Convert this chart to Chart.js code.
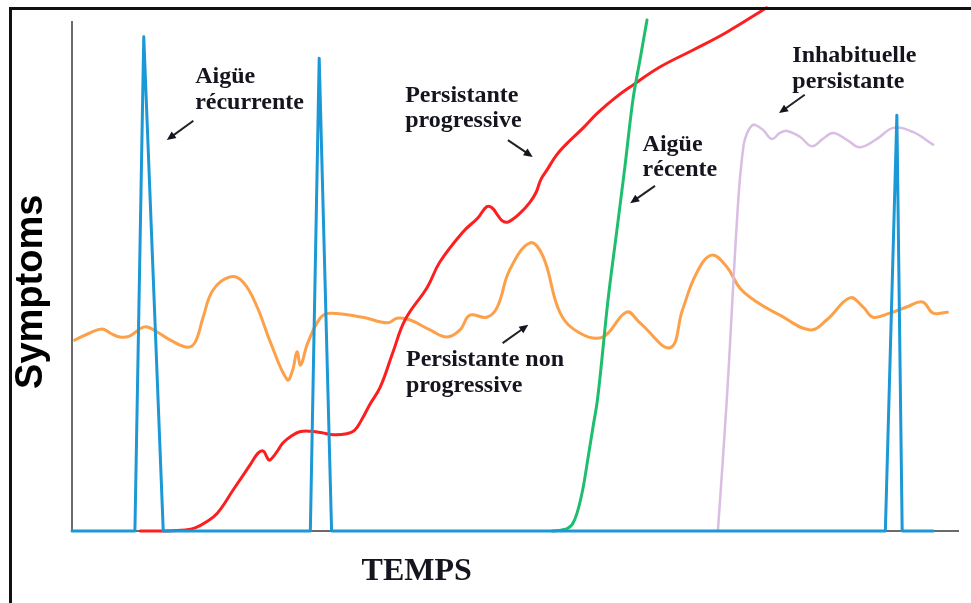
<!DOCTYPE html>
<html lang="fr">
<head>
<meta charset="utf-8">
<title>Symptoms / Temps</title>
<script src="https://cdn.jsdelivr.net/npm/chart.js@4.4.1/dist/chart.umd.min.js"></script>
<style>
    html, body { margin: 0; padding: 0; background: #fff; }
    #wrap { position: relative; width: 971px; height: 603px; }
    #frame {
        position: absolute; left: 9px; top: 7px; right: 0; bottom: 0;
        border-left: 3px solid #111; border-top: 3px solid #111;
        pointer-events: none;
    }
</style>
</head>
<body>
<div id="wrap">
    <canvas id="symptomChart"></canvas>
    <div id="frame"></div>
</div>
<script>
// Time axis runs 0..100, symptom level 0..100 (no units in the figure)

// Aigüe récurrente (blue spikes)
const recurrentTime  = [0, 7.1, 8.1, 10.3, 26.9, 27.9, 29.3, 91.8, 93.1, 93.7, 97.2];
const recurrentLevel = [0, 0, 97.1, 0, 0, 92.9, 0, 0, 81.7, 0, 0];

// Persistante progressive (red)
const progressiveTime  = [7.7, 10.5, 12.8, 13.9, 15.0, 16.4, 18.2, 20.1, 21.0, 21.6, 22.0, 22.3, 23.1, 23.8, 24.8, 25.7,
    26.9, 28.2, 29.5, 31.0, 31.9, 32.8, 33.6, 34.8, 36.2, 37.6, 40.1, 41.5, 44.1, 45.8, 46.8, 47.4, 48.1, 48.6, 49.2,
    50.6, 51.7, 52.4, 52.9, 53.6, 54.7, 55.9, 57.7, 59.3, 61.3, 63.3, 66.4, 70.1, 73.9, 78.4];
const progressiveLevel = [0, 0, 0.2, 0.6, 1.6, 3.5, 8.1, 13.0, 15.3, 15.7, 14.5, 13.9, 15.5, 17.3, 18.7, 19.5,
    19.6, 19.3, 18.9, 19.1, 19.8, 22.2, 24.8, 28.3, 35.0, 41.5, 47.9, 52.8, 58.7, 61.5, 63.7, 63.5, 61.9, 60.9, 60.7,
    62.5, 64.6, 66.6, 69.0, 70.9, 73.9, 76.2, 79.2, 82.1, 85.1, 87.6, 91.2, 94.5, 98.0, 102.8];

// Persistante non progressive (orange)
const stableTime  = [0.3, 2.0, 3.4, 4.3, 5.4, 6.5, 8.2, 9.6, 11.1, 13.0, 13.9, 14.8, 15.9, 17.8, 19.3, 20.9, 22.3,
    24.3, 24.9, 25.4, 25.8, 26.6, 28.0, 29.1, 32.8, 35.6, 36.7, 38.1, 40.4, 42.3, 43.8, 44.9, 46.8, 48.0, 49.4,
    51.7, 53.2, 55.1, 57.3, 59.9, 62.6, 64.1, 67.5, 68.9, 70.5, 72.2, 73.9, 75.4, 77.3, 79.9, 83.3, 85.2, 87.8,
    89.3, 90.4, 92.3, 94.2, 96.0, 97.2, 98.8];
const stableLevel = [37.5, 38.9, 39.7, 38.9, 38.1, 38.3, 40.1, 39.1, 37.5, 36.1, 37.1, 42.0, 47.3, 49.9, 48.9, 44.0, 37.5,
    29.7, 31.6, 35.2, 32.6, 36.9, 41.8, 42.8, 42.0, 40.9, 41.8, 41.5, 39.5, 38.1, 39.5, 42.4, 42.0, 44.0, 51.3,
    56.6, 53.8, 42.8, 38.9, 38.1, 43.0, 40.9, 36.0, 43.4, 50.7, 54.2, 51.9, 47.7, 45.0, 42.4, 39.5, 41.5, 45.8,
    44.0, 42.0, 42.8, 44.0, 45.0, 42.8, 43.0];

// Aigüe récente (green)
const recentTime  = [54.2, 55.3, 56.0, 56.5, 57.0, 57.7, 58.2, 58.8, 59.3, 60.5, 61.5, 62.4, 63.3, 64.1, 64.9];
const recentLevel = [0, 0.2, 0.6, 1.4, 3.5, 8.6, 13.9, 20.4, 25.7, 45.4, 59.1, 71.5, 84.6, 92.5, 100.4];

// Inhabituelle persistante (lilac)
const unusualTime  = [72.9, 73.9, 75.2, 75.8, 76.2, 76.7, 77.1, 78.0, 79.0, 79.9, 80.7, 82.2, 83.5, 84.8, 85.9,
    87.5, 88.9, 90.9, 92.7, 94.9, 97.2];
const unusualLevel = [0, 25.7, 65.0, 75.8, 78.2, 79.6, 79.8, 78.8, 77.0, 78.2, 78.6, 77.4, 75.6, 77.1, 78.2,
    76.8, 75.4, 77.1, 79.2, 78.4, 75.9];

// Annotation texts, anchored in chart units
const notes = [
    { lines: ['Aigüe', 'récurrente'], t: 13.9, v: 88.0, arrow: [13.7, 80.6, 10.7, 76.8] },
    { lines: ['Persistante', 'progressive'], t: 37.6, v: 84.3, arrow: [49.2, 76.8, 52.0, 73.5] },
    { lines: ['Aigüe', 'récente'], t: 64.4, v: 74.7, arrow: [65.8, 67.8, 63.0, 64.4] },
    { lines: ['Inhabituelle', 'persistante'], t: 81.3, v: 92.1, arrow: [82.7, 85.7, 79.8, 82.1] },
    { lines: ['Persistante non', 'progressive'], t: 37.7, v: 32.4, arrow: [48.6, 36.9, 51.5, 40.5] }
];

function points(xs, ys) {
    return xs.map((x, i) => ({ x: x, y: ys[i] }));
}

function drawArrow(ctx, x1, y1, x2, y2) {
    const ang = Math.atan2(y2 - y1, x2 - x1);
    const head = 9;
    ctx.beginPath();
    ctx.moveTo(x1, y1);
    ctx.lineTo(x2 - Math.cos(ang) * head * 0.6, y2 - Math.sin(ang) * head * 0.6);
    ctx.stroke();
    ctx.beginPath();
    ctx.moveTo(x2, y2);
    ctx.lineTo(x2 - head * Math.cos(ang) + 4 * Math.sin(ang), y2 - head * Math.sin(ang) - 4 * Math.cos(ang));
    ctx.lineTo(x2 - head * Math.cos(ang) - 4 * Math.sin(ang), y2 - head * Math.sin(ang) + 4 * Math.cos(ang));
    ctx.closePath();
    ctx.fill();
}

const annotationPlugin = {
    id: 'figureText',
    afterDatasetsDraw(chart) {
        const { ctx, scales: { x, y }, chartArea } = chart;
        ctx.save();
        ctx.fillStyle = '#15151f';
        ctx.strokeStyle = '#222';
        ctx.lineWidth = 2;
        ctx.font = 'bold 24px "Liberation Serif", "Times New Roman", serif';
        ctx.textAlign = 'left';
        ctx.textBaseline = 'alphabetic';
        notes.forEach(note => {
            const px = x.getPixelForValue(note.t);
            const py = y.getPixelForValue(note.v);
            note.lines.forEach((line, j) => ctx.fillText(line, px, py + j * 25.5));
            const a = note.arrow;
            drawArrow(ctx, x.getPixelForValue(a[0]), y.getPixelForValue(a[1]),
                x.getPixelForValue(a[2]), y.getPixelForValue(a[3]));
        });

        // axis titles
        ctx.font = 'bold 32px "Liberation Serif", "Times New Roman", serif';
        ctx.textAlign = 'center';
        ctx.fillText('TEMPS', x.getPixelForValue(38.9), chartArea.bottom + 49);

        ctx.translate(chartArea.left - 30, y.getPixelForValue(47.0));
        ctx.rotate(-Math.PI / 2);
        ctx.font = 'bold 38px "Liberation Sans", Arial, sans-serif';
        ctx.fillStyle = '#000';
        ctx.fillText('Symptoms', 0, 0);
        ctx.restore();
    }
};

// mode: 'straight' | 'smooth' | 'monotone'
function lineSet(label, xs, ys, color, width, mode) {
    return {
        label: label,
        data: points(xs, ys),
        borderColor: color,
        borderWidth: width,
        borderJoinStyle: 'round',
        borderCapStyle: 'round',
        pointRadius: 0,
        fill: false,
        clip: false,
        tension: mode === 'straight' ? 0 : 0.4,
        cubicInterpolationMode: mode === 'monotone' ? 'monotone' : 'default'
    };
}

const ctx = document.getElementById('symptomChart').getContext('2d');
new Chart(ctx, {
    type: 'line',
    data: {
        datasets: [
            lineSet('Aigüe récurrente', recurrentTime, recurrentLevel, '#1b98d5', 3, 'straight'),
            lineSet('Inhabituelle persistante', unusualTime, unusualLevel, '#d9bde3', 2.5, 'smooth'),
            lineSet('Aigüe récente', recentTime, recentLevel, '#1fbe6e', 3, 'monotone'),
            lineSet('Persistante progressive', progressiveTime, progressiveLevel, '#fb1f1f', 3, 'smooth'),
            lineSet('Persistante non progressive', stableTime, stableLevel, '#fda04a', 3, 'smooth')
        ]
    },
    options: {
        responsive: true,
        maintainAspectRatio: false,
        animation: false,
        layout: { padding: { left: 72, top: 22, right: 13, bottom: 72 } },
        scales: {
            x: {
                type: 'linear', min: 0, max: 100,
                grid: { display: false, drawTicks: false },
                ticks: { display: false },
                border: { display: true, color: '#6b6b6b', width: 2 }
            },
            y: {
                type: 'linear', min: 0, max: 100,
                grid: { display: false, drawTicks: false },
                ticks: { display: false },
                border: { display: true, color: '#6b6b6b', width: 2 }
            }
        },
        plugins: {
            legend: { display: false },
            tooltip: { enabled: false }
        }
    },
    plugins: [annotationPlugin]
});
</script>
</body>
</html>
